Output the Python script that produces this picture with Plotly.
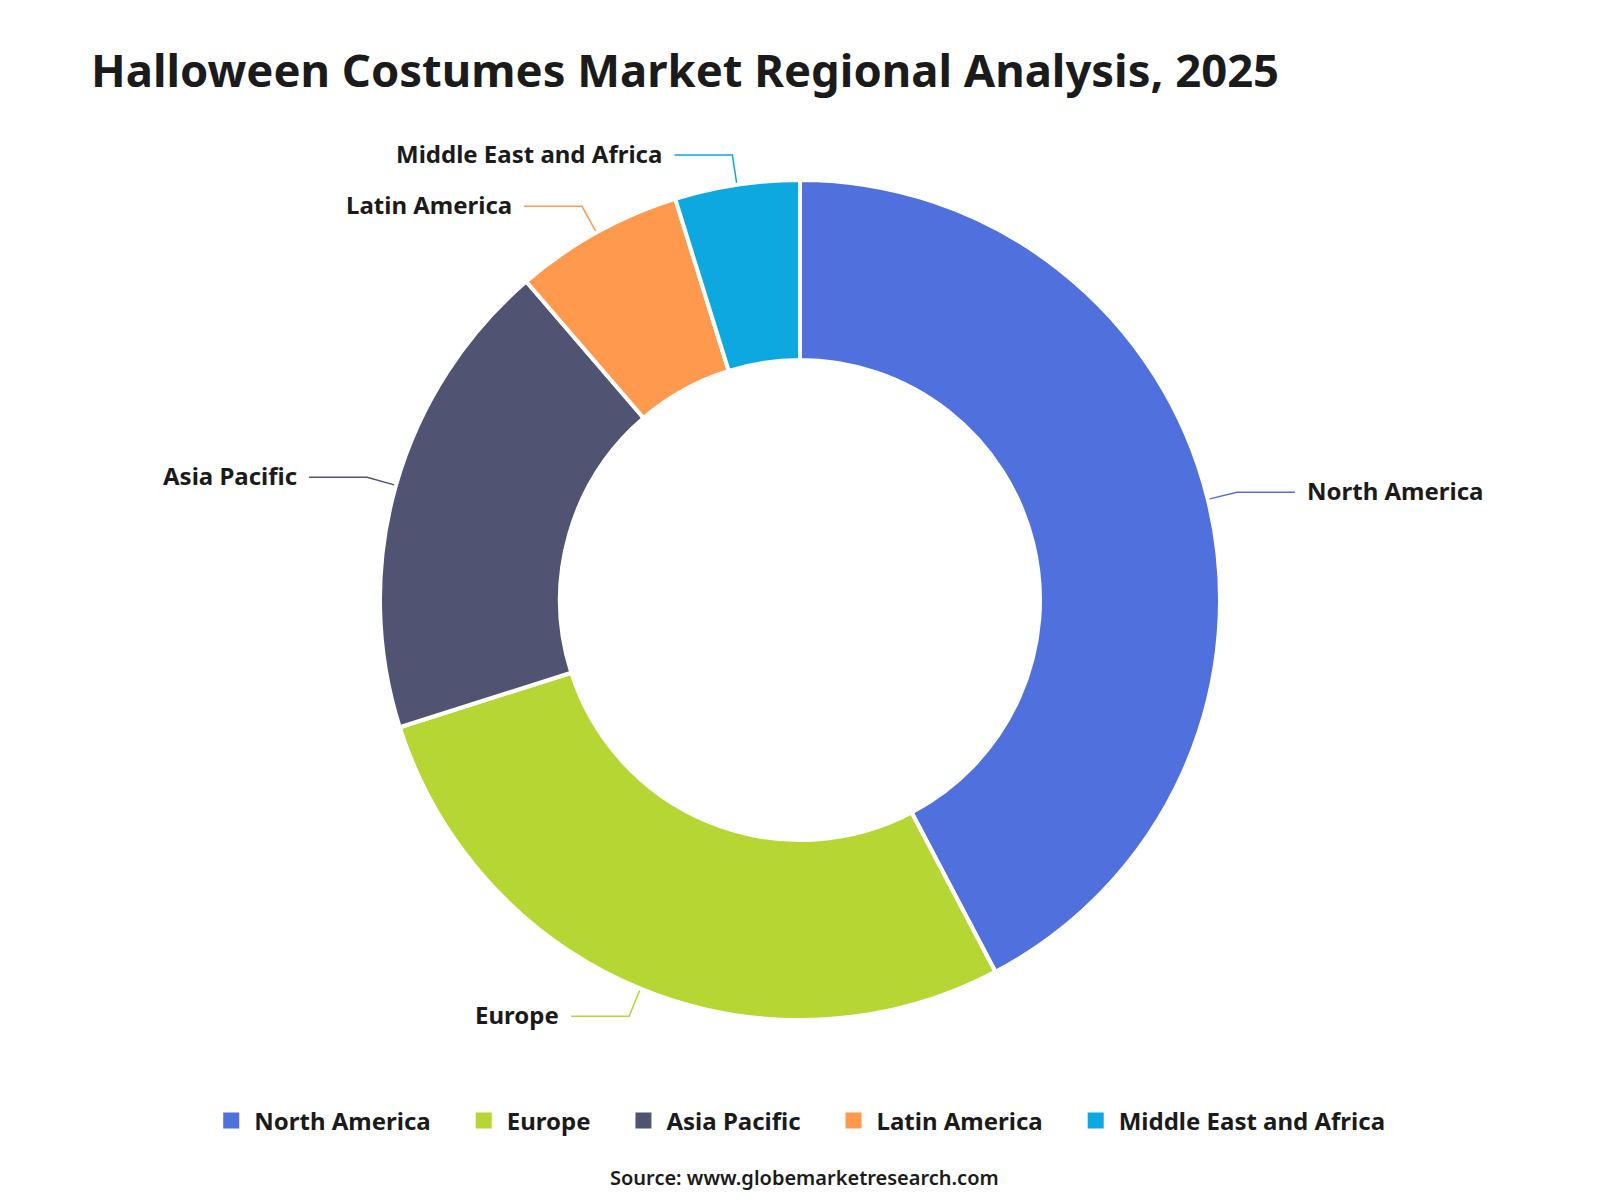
import numpy as np
import plotly.graph_objects as go

# regional share of the halloween costumes market, 2025 (%)
regions = ['North America', 'Europe', 'Asia Pacific', 'Latin America', 'Middle East and Africa']
shares = [42.3, 27.8, 18.6, 6.5, 4.8]
colors = ['#5070dd', '#b6d634', '#505372', '#ff994d', '#0ca8df']

# page body has an 8px margin, so the figure is drawn in page coords minus 8
OFF = 8
W, H = 1600 - OFF, 1200 - OFF
cx, cy = 800 - OFF, 600 - OFF
r_out, r_in = 420, 240
FONT = 'Noto Sans'
INK = '#1b1b1b'

fig = go.Figure()
fig.add_trace(go.Pie(
    labels=regions, values=shares, sort=False,
    direction='clockwise', rotation=0,
    hole=r_in / r_out,
    marker=dict(colors=colors, line=dict(color='white', width=4)),
    textinfo='none', hoverinfo='label+percent',
    domain=dict(x=[(cx - r_out) / W, (cx + r_out) / W],
                y=[1 - (cy + r_out) / H, 1 - (cy - r_out) / H]),
    showlegend=False,
))

# leader lines + outside labels, placed at the middle angle of each slice
total = sum(shares)
start = 0.0
for name, v, c in zip(regions, shares, colors):
    span = v / total * 360
    a = np.radians(start + span / 2)
    start += span
    x1, y1 = cx + r_out * np.sin(a), cy - r_out * np.cos(a)
    x2, y2 = cx + (r_out + 30) * np.sin(a), cy - (r_out + 30) * np.cos(a)
    side = 1 if np.sin(a) >= 0 else -1
    x3 = x2 + side * 58
    fig.add_trace(go.Scatter(x=[x1, x2, x3], y=[y1, y2, y2], mode='lines',
                             line=dict(color=c, width=1.5),
                             showlegend=False, hoverinfo='skip'))
    fig.add_annotation(x=x3 + side * 10, y=y2 - 2, text=name, showarrow=False,
                       xanchor='left' if side > 0 else 'right', yanchor='middle',
                       font=dict(family=FONT, size=24, color=INK, weight='bold'))

# legend entries (bigger square swatches than the pie legend gives)
for i, (name, c) in enumerate(zip(regions, colors)):
    pad = '\u00a0' * 4 if i < len(regions) - 1 else ''
    fig.add_trace(go.Scatter(x=[None], y=[None], mode='markers', name=name + pad,
                             marker=dict(symbol='square', size=16, color=c),
                             hoverinfo='skip'))

fig.add_annotation(x=0.5, y=1 - 1169 / H, xref='paper', yref='paper',
                   text='Source: www.globemarketresearch.com', showarrow=False,
                   xanchor='center', yanchor='middle',
                   font=dict(family=FONT, size=20, color=INK, weight=600))

fig.update_layout(
    width=W, height=H,
    margin=dict(l=0, r=0, t=0, b=0),
    paper_bgcolor='white', plot_bgcolor='white',
    title=dict(text='Halloween Costumes Market Regional Analysis, 2025',
               x=83 / W, xanchor='left', y=1 - 63 / H, yanchor='middle',
               font=dict(family=FONT, size=45.4, color=INK, weight='bold')),
    xaxis=dict(range=[0, W], visible=False, fixedrange=True),
    yaxis=dict(range=[H, 0], visible=False, fixedrange=True),
    legend=dict(orientation='h', x=0.497, xanchor='center',
                y=1 - 1113 / H, yanchor='middle', itemwidth=36,
                font=dict(family=FONT, size=24, color=INK, weight='bold')),
    showlegend=True,
)

fig.write_html('out.html')
